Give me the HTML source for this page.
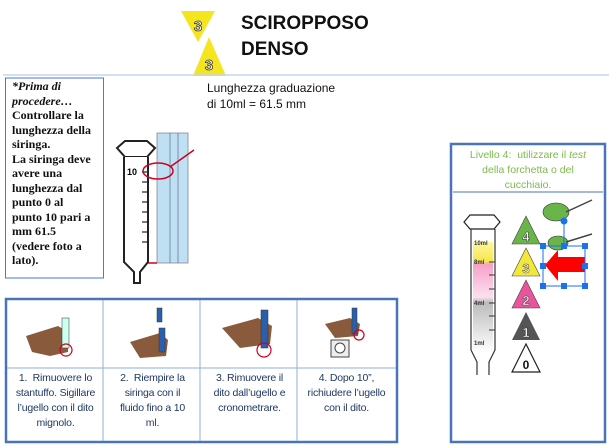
<!DOCTYPE html>
<html><head><meta charset="utf-8"><style>
body{margin:0;width:609px;height:447px;background:#fff;position:relative;overflow:hidden;font-family:"Liberation Sans",sans-serif}
.a{position:absolute}
.t{font-family:"Liberation Sans",sans-serif}
.lb{font-family:"Liberation Serif",serif;font-weight:bold;font-size:12px;line-height:14.5px;color:#111;white-space:nowrap}
.cap{position:absolute;top:371px;width:97px;text-align:center;font-size:10.5px;line-height:15px;color:#1f3864;white-space:nowrap;letter-spacing:-0.2px}
</style></head><body>
<svg class="a" style="left:0;top:0" width="609" height="447">
 <polygon points="181,11 215,11 198,42" fill="#f5e51e"/>
 <polygon points="209,37 193,76 226,76" fill="#f5e51e"/>
 <text x="198" y="31" font-size="15" font-weight="bold" text-anchor="middle" fill="#fff" stroke="#333" stroke-width="0.8" font-family="Liberation Sans">3</text>
 <text x="209" y="70" font-size="15" font-weight="bold" text-anchor="middle" fill="#fff" stroke="#333" stroke-width="0.8" font-family="Liberation Sans">3</text>
 <line x1="3" y1="75" x2="609" y2="75" stroke="#c5d6ea" stroke-width="1.5"/>
 <rect x="5.5" y="78" width="98" height="200" fill="none" stroke="#4a7bc4" stroke-width="1"/>
 <rect x="157" y="133" width="31" height="130" fill="#bfe0f2" stroke="#889" stroke-width="0.8"/>
 <g stroke="#557" stroke-width="0.6">
  <line x1="170" y1="133" x2="170" y2="263"/><line x1="178" y1="133" x2="178" y2="263"/>
 </g>
 <polygon points="117,148 125,141 147,141 155,148 147,157 125,157" fill="#fff" stroke="#222" stroke-width="2"/>
 <path d="M124,157 L124,262 L134,272 L134,283 L140,283 L140,272 L148,262 L148,157" fill="#fff" stroke="#222" stroke-width="2"/>
 <g stroke="#222" stroke-width="1.2">
  <line x1="142" y1="172" x2="148" y2="172"/><line x1="142" y1="182" x2="148" y2="182"/><line x1="142" y1="192" x2="148" y2="192"/><line x1="142" y1="202" x2="148" y2="202"/><line x1="142" y1="212" x2="148" y2="212"/><line x1="142" y1="222" x2="148" y2="222"/><line x1="142" y1="232" x2="148" y2="232"/><line x1="142" y1="242" x2="148" y2="242"/>
 </g>
 <text x="127" y="175" font-size="9" font-weight="bold" font-family="Liberation Sans">10</text>
 <ellipse cx="158" cy="171" rx="15" ry="8" fill="none" stroke="#c02" stroke-width="1.5"/>
 <line x1="170" y1="167" x2="194" y2="150" stroke="#c02" stroke-width="1.5"/>
 <line x1="148" y1="263" x2="157" y2="263" stroke="#c02" stroke-width="1.5"/>
 <rect x="451" y="144" width="154" height="298" fill="none" stroke="#4a74b8" stroke-width="2.5"/>
 <line x1="453" y1="192" x2="603" y2="192" stroke="#4a74b8" stroke-width="1"/>
 <polygon points="464,222 470,215 494,215 500,222 494,229 470,229" fill="#fff" stroke="#222" stroke-width="1.2"/>
 <defs><linearGradient id="g" x1="0" y1="0" x2="0" y2="1">
  <stop offset="0" stop-color="#fff7a0"/><stop offset="0.18" stop-color="#f5e54a"/><stop offset="0.2" stop-color="#f6a0c8"/><stop offset="0.5" stop-color="#fce0ee"/><stop offset="0.55" stop-color="#bbb"/><stop offset="1" stop-color="#fff"/></linearGradient></defs>
 <rect x="473" y="242" width="20" height="110" fill="url(#g)"/>
 <path d="M471,229 L471,350 L477,362 L477,375 M495,229 L495,350 L489,362 L489,375" fill="none" stroke="#333" stroke-width="1.2"/>
 <g font-size="6" font-weight="bold" font-family="Liberation Sans" fill="#333"><text x="474" y="245">10ml</text><text x="474" y="264">8ml</text><text x="474" y="305">4ml</text><text x="474" y="345">1ml</text></g>
 <g stroke="#333" stroke-width="1"><line x1="489" y1="262" x2="495" y2="262"/><line x1="489" y1="275" x2="495" y2="275"/><line x1="489" y1="289" x2="495" y2="289"/><line x1="489" y1="303" x2="495" y2="303"/><line x1="489" y1="316" x2="495" y2="316"/><line x1="489" y1="330" x2="495" y2="330"/></g>
 <polygon points="526,216 512,244 540,244" fill="#6ab54a" stroke="#444" stroke-width="0.6"/>
 <polygon points="526,248 512,276 540,276" fill="#f2e83a" stroke="#444" stroke-width="0.6"/>
 <polygon points="526,280 512,308 540,308" fill="#e8559c" stroke="#444" stroke-width="0.6"/>
 <polygon points="526,312 512,340 540,340" fill="#555"/>
 <polygon points="526,344 512,372 540,372" fill="#fff" stroke="#222" stroke-width="1.2"/>
 <g font-size="13" font-weight="bold" font-family="Liberation Sans" text-anchor="middle" fill="#fff" stroke="#333" stroke-width="0.5">
  <text x="526" y="241">4</text><text x="526" y="273">3</text><text x="526" y="305">2</text><text x="526" y="337">1</text></g>
 <text x="526" y="369" font-size="12" font-weight="bold" font-family="Liberation Sans" text-anchor="middle" fill="#111">0</text>
 <ellipse cx="556" cy="212" rx="13" ry="9" fill="#6ab54a" stroke="#333" stroke-width="0.6"/>
 <line x1="566" y1="212" x2="592" y2="200" stroke="#444" stroke-width="1.5"/>
 <ellipse cx="558" cy="243" rx="10" ry="7" fill="#6ab54a" stroke="#333" stroke-width="0.6"/>
 <line x1="566" y1="242" x2="592" y2="234" stroke="#444" stroke-width="1.5"/>
 <polygon points="545,265 558,250 558,257 585,257 585,272 558,272 558,281" fill="#f00"/>
 <rect x="543" y="246" width="42" height="40" fill="none" stroke="#1a73e8" stroke-width="1"/>
 <g fill="#1a73e8"><rect x="540" y="243" width="6" height="6"/><rect x="561" y="243" width="6" height="6"/><rect x="582" y="243" width="6" height="6"/><rect x="540" y="263" width="6" height="6"/><rect x="582" y="263" width="6" height="6"/><rect x="540" y="283" width="6" height="6"/><rect x="561" y="283" width="6" height="6"/><rect x="582" y="283" width="6" height="6"/></g>
 <line x1="564" y1="222" x2="564" y2="243" stroke="#1a73e8"/><circle cx="564" cy="221" r="3.5" fill="#1a73e8"/>
 <rect x="6" y="299" width="391" height="143" fill="none" stroke="#4a74b8" stroke-width="2.5"/>
 <g stroke="#8fb0dc" stroke-width="1"><line x1="103" y1="300" x2="103" y2="441"/><line x1="200" y1="300" x2="200" y2="441"/><line x1="297" y1="300" x2="297" y2="441"/><line x1="7" y1="368" x2="396" y2="368"/></g>
 <g fill="#8a5a3c">
  <path d="M26,336 L58,326 L68,332 L68,352 L50,356 L32,352 Z"/>
  <path d="M130,342 L160,333 L168,340 L166,356 L140,358 Z"/>
  <path d="M222,328 L258,318 L272,326 L270,344 L240,348 Z"/>
  <path d="M325,324 L350,318 L360,324 L358,336 L335,338 Z"/>
 </g>
 <g fill="#2a5fae" stroke="#333" stroke-width="0.5">
  <rect x="62" y="318" width="7" height="30" fill="#cfe"/><rect x="159" y="328" width="6" height="24"/><rect x="157" y="308" width="5" height="14"/><rect x="261" y="310" width="7" height="38"/><rect x="352" y="308" width="5" height="26"/>
 </g>
 <g fill="none" stroke="#c02" stroke-width="1.2"><circle cx="66" cy="350" r="6"/><circle cx="264" cy="350" r="7"/><circle cx="359" cy="335" r="5"/></g>
 <rect x="331" y="340" width="18" height="17" fill="#eee" stroke="#444"/><circle cx="340" cy="348" r="5" fill="#fff" stroke="#444"/>
</svg>
<div class="a t" style="left:241px;top:11px;font-size:19px;font-weight:bold;line-height:26px;color:#111">SCIROPPOSO<br>DENSO</div>
<div class="a lb" style="left:12px;top:79px"><i>*Prima di<br>procedere…</i><br>Controllare la<br>lunghezza della<br>siringa.<br>La siringa deve<br>avere una<br>lunghezza dal<br>punto 0 al<br>punto 10 pari a<br>mm 61.5<br>(vedere foto a<br>lato).</div>
<div class="a t" style="left:207px;top:80px;font-size:12px;line-height:16px;color:#111">Lunghezza graduazione<br>di 10ml = 61.5 mm</div>
<div class="a t" style="left:453px;top:148px;width:150px;text-align:center;font-size:10.5px;line-height:15px;color:#7dbb4a;white-space:nowrap">Livello 4:&nbsp; utilizzare il <i>test</i><br>della forchetta o del<br>cucchiaio.</div>
<div class="cap" style="left:7px">1.&nbsp; Rimuovere lo<br>stantuffo. Sigillare<br>l’ugello con il dito<br>mignolo.</div>
<div class="cap" style="left:104px">2.&nbsp; Riempire la<br>siringa con il<br>fluido fino a 10<br>ml.</div>
<div class="cap" style="left:201px">3. Rimuovere il<br>dito dall’ugello e<br>cronometrare.</div>
<div class="cap" style="left:298px">4. Dopo 10”,<br>richiudere l’ugello<br>con il dito.</div>
</body></html>
